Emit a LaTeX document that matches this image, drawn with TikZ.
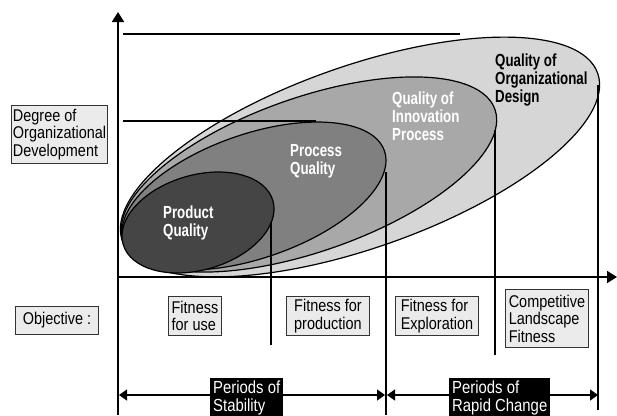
\documentclass[tikz,border=0pt]{standalone}
\usepackage{fontspec}
\setmainfont{Liberation Sans}[FakeStretch=0.85]
\newfontfamily\condfont{Liberation Sans}[FakeStretch=0.76]
\usetikzlibrary{arrows.meta}
\usetikzlibrary{positioning}

\begin{document}
\begin{tikzpicture}[x=1pt,y=-1pt,
        axis/.style={line width=1.7pt},
        level/.style={line width=1.5pt},
        blob/.style={draw=black,line width=1.2pt},
        objbox/.style={draw=black!80,fill=black!8,line width=0.9pt,inner sep=1.5pt,
            align=left,anchor=north west,font=\fontsize{17}{17.5}\selectfont},
        period/.style={fill=black,text=white,inner sep=3pt,align=left,
            anchor=north west,font=\fontsize{17.5}{18}\selectfont},
        qual/.style={inner sep=0pt,align=left,anchor=north west,
            font=\condfont\bfseries\fontsize{17.5}{18}\selectfont}]
            \useasboundingbox (0,0) rectangle (617,415);

            \filldraw[blob,fill=black!16,rotate around={19.4:(360,157)}] (360,157) ellipse (252 and 91);
            \filldraw[blob,fill=black!34,rotate around={19.3:(309,174.5)}] (309,174.5) ellipse (197 and 77);
            \filldraw[blob,fill=black!50,rotate around={19.1:(254,196)}] (254,196) ellipse (138 and 62);
            \filldraw[blob,fill=black!73,rotate around={16.3:(198,222.5)}] (198,222.5) ellipse (78 and 47.4);

            \path (118,277) coordinate(o) (118,12) coordinate(ytip) (118,415) coordinate(ybot)
                (617,277) coordinate(xtip);
            \path (123,34) coordinate(ha) (460,34) coordinate(hb)
                (123,121) coordinate(hc) (316,121) coordinate(hd);
            \path (271,222) coordinate(pa) (271,345) coordinate(pb)
                (386,172) coordinate(qa) (386,415) coordinate(qb)
                (495,130) coordinate(ra) (495,355) coordinate(rb)
                (598,85) coordinate(sa) (598,410) coordinate(sb);
            \path (119,395) coordinate(la) (385,395) coordinate(lb)
                (387,395) coordinate(ma) (598,395) coordinate(mb);

            \draw[level] (ha) -- (hb);
            \draw[level] (hc) -- (hd);
            \draw[level] (pa) -- (pb);
            \draw[level] (qa) -- (qb);
            \draw[level] (ra) -- (rb);
            \draw[level] (sa) -- (sb);

            \draw[axis,-{Triangle[length=10pt,width=12pt]}] (ybot) -- (ytip);
            \draw[axis,-{Triangle[length=10pt,width=12pt]}] (o) -- (xtip);

            \draw[line width=1.3pt,{Triangle[length=8pt,width=11pt]}-{Triangle[length=8pt,width=11pt]}] (la) -- (lb);
            \draw[line width=1.3pt,{Triangle[length=8pt,width=11pt]}-{Triangle[length=8pt,width=11pt]}] (ma) -- (mb);

            \node[qual,text=white] (product) at (163,206) {Product\\Quality};
            \node[qual,text=white] (process) at (290,144) {Process\\Quality};
            \node[qual,text=white] (innov) at (392,92) {Quality of\\Innovation\\Process};
            \node[qual] (design) at (495,54) {Quality of\\Organizational\\Design};

            \node[objbox,minimum width=96,minimum height=58] (degree) at (11,105) {Degree of\\Organizational\\Development};
            \node[objbox,minimum width=83,minimum height=28] (objective) at (15,306) {Objective :};
            \node[objbox,minimum width=53,minimum height=39] (use) at (168,296) {Fitness\\for use};
            \node[objbox,minimum width=83,minimum height=39] (production) at (286,296) {Fitness for\\production};
            \node[objbox,minimum width=83,minimum height=39] (explore) at (395,296) {Fitness for\\Exploration};
            \node[objbox,minimum width=83,minimum height=58] (landscape) at (505,289) {Competitive\\Landscape\\Fitness};

            \node[period] (stable) at (210,378) {Periods of\\Stability};
            \node[period] (rapid) at (449,378) {Periods of\\Rapid Change};
        \end{tikzpicture}
\end{document}
